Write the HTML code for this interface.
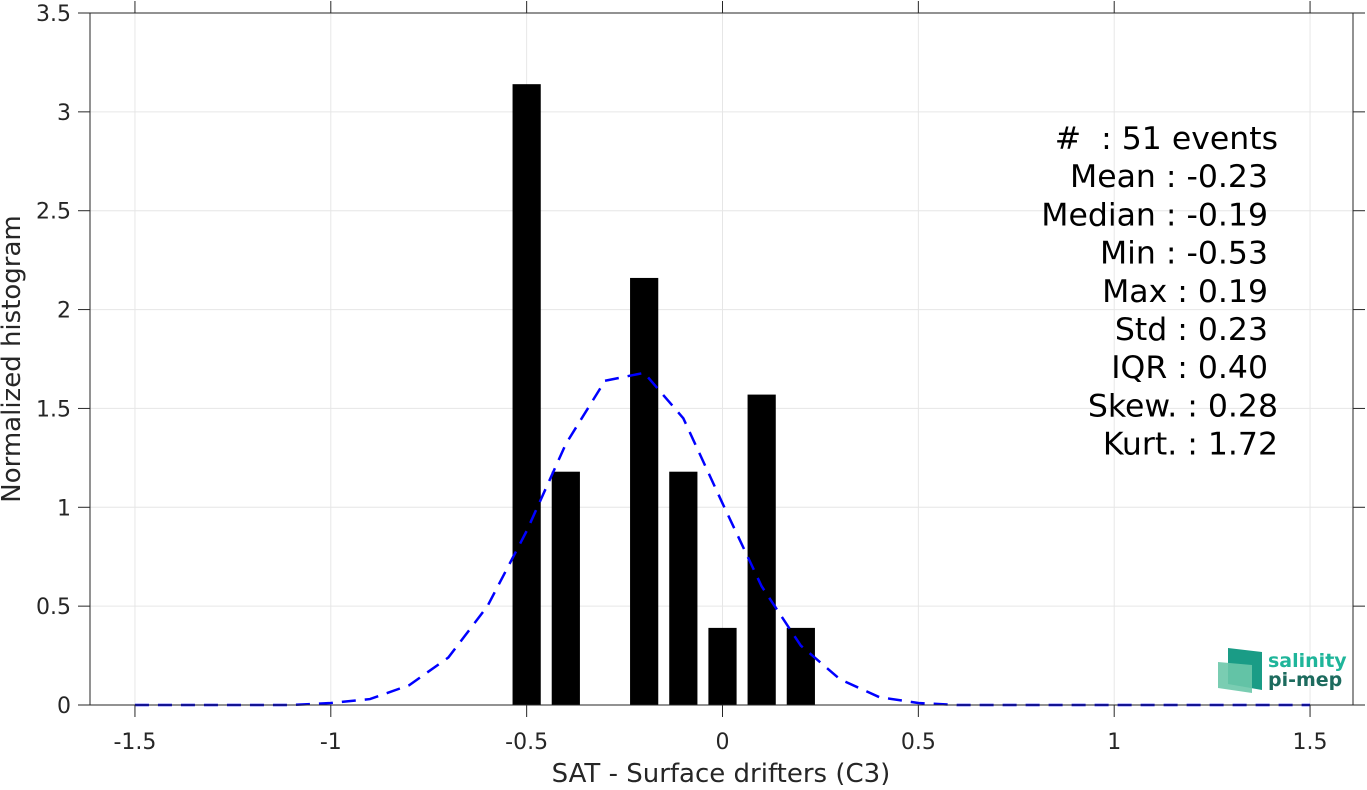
<!DOCTYPE html>
<html><head><meta charset="utf-8"><style>
body{margin:0;background:#fff;}
svg text{font-family:"DejaVu Sans","Liberation Sans",sans-serif;white-space:pre;}
</style></head><body>
<svg id="c" width="1367" height="785" xmlns="http://www.w3.org/2000/svg"></svg>
<script>
const xTicks=[-1.5,-1,-0.5,0,0.5,1,1.5];
const xTickLabels=["-1.5","-1","-0.5","0","0.5","1","1.5"];
const yTicks=[0,0.5,1,1.5,2,2.5,3,3.5];
const yTickLabels=["0","0.5","1","1.5","2","2.5","3","3.5"];
const barCenters=[-0.5,-0.4,-0.2,-0.1,0,0.1,0.2];
const barValues=[3.14,1.18,2.16,1.18,0.39,1.57,0.39];
const fitX=[-1.5,-1.4,-1.3,-1.2,-1.1,-1,-0.9,-0.8,-0.7,-0.6,-0.5,-0.4,-0.3,-0.2,-0.1,0,0.1,0.2,0.3,0.4,0.5,0.6,0.7,0.8,0.9,1,1.1,1.2,1.3,1.4,1.5];
const fitY=[0,0,0,0,0,0.01,0.03,0.1,0.24,0.5,0.88,1.32,1.64,1.68,1.45,1.02,0.6,0.3,0.13,0.04,0.01,0,0,0,0,0,0,0,0,0,0];
const statLines=["#  : 51 events","Mean : -0.23","Median : -0.19","Min : -0.53","Max : 0.19","Std : 0.23","IQR : 0.40","Skew. : 0.28","Kurt. : 1.72"];
const statRight=[1278,1268,1268,1268,1268,1268,1268,1278,1278];

const L=90,R=1353,T=13,B=705;
const X=v=>722.5+v*391.7;
const Y=v=>B-(v/3.5)*(B-T);
const svg=document.getElementById('c');
const NS='http://www.w3.org/2000/svg';
function mk(t,a,p){const e=document.createElementNS(NS,t);for(const k in a)e.setAttribute(k,a[k]);(p||svg).appendChild(e);return e;}

const grid=mk('g',{});


xTicks.forEach(v=>mk('line',{x1:X(v),x2:X(v),y1:T,y2:B,stroke:'#e6e6e6','stroke-width':1},grid));
yTicks.forEach(v=>mk('line',{x1:L,x2:R,y1:Y(v),y2:Y(v),stroke:'#e6e6e6','stroke-width':1},grid));

const bars=mk('g',{});


const bw=0.072*391.7;
barCenters.forEach((c,i)=>{const r=mk('rect',{x:X(c)-bw/2,y:Y(barValues[i]),width:bw,height:B-Y(barValues[i]),fill:'#000'},bars);

});

const fit=mk('polyline',{points:fitX.map((x,i)=>X(x)+','+Y(fitY[i])).join(' '),fill:'none',stroke:'#0000ff','stroke-width':2.5,'stroke-dasharray':'14,9'});



const ax=mk('g',{});


mk('rect',{x:L,y:T,width:R-L,height:B-T,fill:'none',stroke:'#262626','stroke-width':1},ax);
xTicks.forEach((v,i)=>{mk('line',{x1:X(v),x2:X(v),y1:B,y2:B+12,stroke:'#262626'},ax);mk('line',{x1:X(v),x2:X(v),y1:T,y2:T-12,stroke:'#262626'},ax);
const t=mk('text',{x:X(v),y:B+44,'text-anchor':'middle','font-size':22,fill:'#262626'},ax);t.textContent=xTickLabels[i];
});
yTicks.forEach((v,i)=>{mk('line',{x1:L,x2:L-12,y1:Y(v),y2:Y(v),stroke:'#262626'},ax);mk('line',{x1:R,x2:R+12,y1:Y(v),y2:Y(v),stroke:'#262626'},ax);
const t=mk('text',{x:L-19,y:Y(v)+8,'text-anchor':'end','font-size':22,fill:'#262626'},ax);t.textContent=yTickLabels[i];
});
const xt=mk('text',{x:721,y:782,'text-anchor':'middle','font-size':26,fill:'#262626'});xt.textContent='SAT - Surface drifters (C3)';

const yt=mk('text',{x:0,y:0,transform:'translate(20,359) rotate(-90)','text-anchor':'middle','font-size':26,fill:'#262626'});yt.textContent='Normalized histogram';


const st=mk('g',{});


statLines.forEach((s,i)=>{const t=mk('text',{x:statRight[i],y:149+i*38.2,'text-anchor':'end','font-size':31.5,fill:'#000'},st);t.textContent=s;
});

const logo=mk('g',{});


mk('polygon',{points:'1228,648 1262,652 1262,690 1228,684',fill:'#1a9c86'},logo);
mk('polygon',{points:'1218,662 1252,665 1252,693 1218,688',fill:'#6cc8aa',opacity:0.9},logo);
const l1=mk('text',{x:1268,y:667,'font-size':19,'font-weight':'bold',fill:'#1fb59a'},logo);l1.textContent='salinity';
const l2=mk('text',{x:1268,y:686,'font-size':19,'font-weight':'bold',fill:'#1d6b5e'},logo);l2.textContent='pi-mep';
</script>
</body></html>
